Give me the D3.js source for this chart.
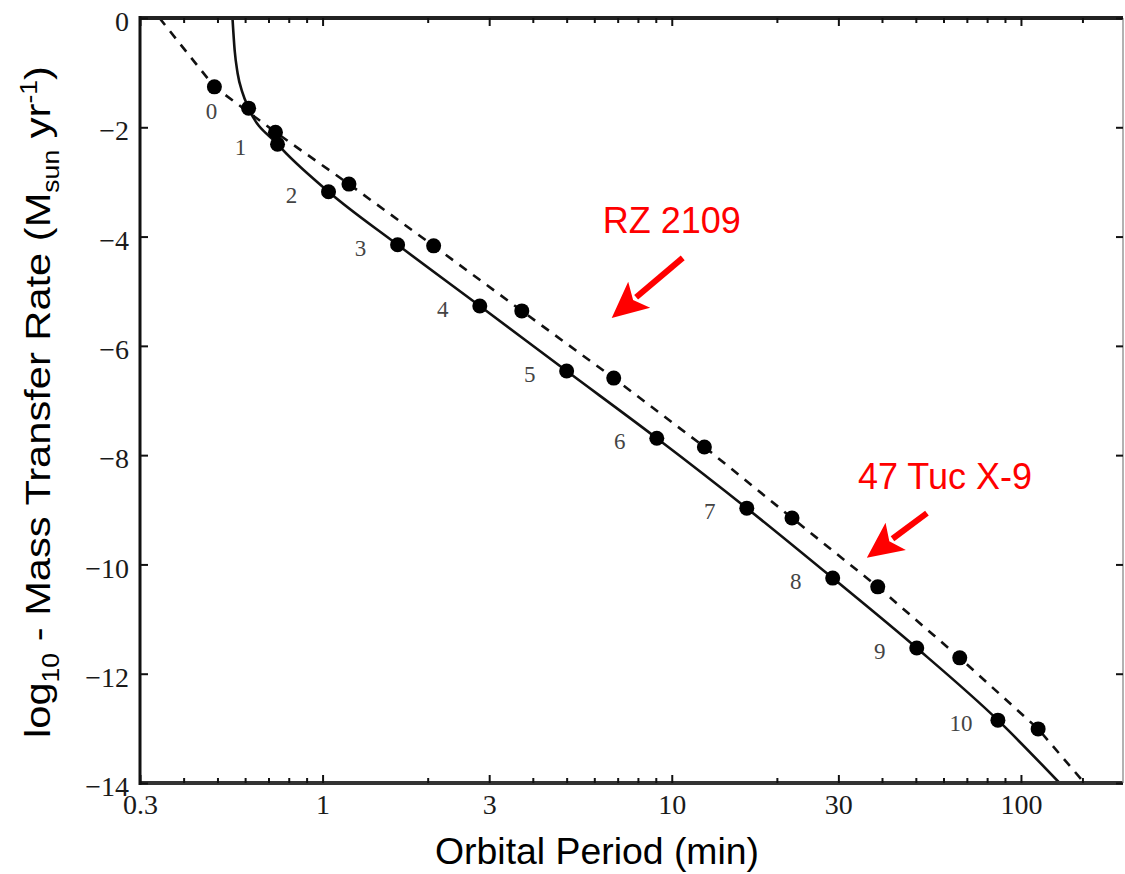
<!DOCTYPE html>
<html>
<head>
<meta charset="utf-8">
<script src="https://cdn.jsdelivr.net/npm/d3@7"></script>
<style>
  body { margin: 0; background: #fff; }
  svg { display: block; }
</style>
</head>
<body>
<svg width="1125" height="874"></svg>
<script>
// axis ticks
const periodTicks = [0.3, 1, 3, 10, 30, 100];
const periodMinor = [0.4, 0.5, 0.6, 0.7, 0.8, 0.9, 2, 4, 5, 6, 7, 8, 9, 20, 40, 50, 60, 70, 80, 90, 150];
const rateTicks = [0, -2, -4, -6, -8, -10, -12, -14];

// dots on the solid track (numbered) and on the dashed track
const dotLabels = ["0", "1", "2", "3", "4", "5", "6", "7", "8", "9", "10"];
const solidDotP = [0.614, 0.743, 1.04, 1.64, 2.82, 5.0, 9.06, 16.4, 28.9, 50.3, 85.9];
const solidDotRate = [-1.65, -2.31, -3.18, -4.15, -5.27, -6.46, -7.69, -8.97, -10.25, -11.53, -12.85];
const dashDotP = [0.49, 0.733, 1.19, 2.08, 3.72, 6.82, 12.4, 22.1, 38.9, 66.8, 112];
const dashDotRate = [-1.26, -2.09, -3.04, -4.17, -5.36, -6.59, -7.85, -9.15, -10.41, -11.71, -13.01];

// curves
const solidCurveP = [0.552, 0.56, 0.571, 0.59, 0.614, 0.743, 1.04, 1.64, 2.82, 5.0, 9.06, 16.4, 28.9, 50.3, 85.9, 129];
const solidCurveRate = [0, -0.59, -1.01, -1.37, -1.65, -2.31, -3.18, -4.15, -5.27, -6.46, -7.69, -8.97, -10.25, -11.53, -12.85, -14];
const dashCurveP = [0.341, 0.49, 0.733, 1.19, 2.08, 3.72, 6.82, 12.4, 22.1, 38.9, 66.8, 112, 152];
const dashCurveRate = [0, -1.26, -2.09, -3.04, -4.17, -5.36, -6.59, -7.85, -9.15, -10.41, -11.71, -13.01, -14];

// red annotations: [text P, text rate, arrow tail P, tail rate, tip P, tip rate]
const noteNames = ["RZ 2109", "47 Tuc X-9"];
const noteSpots = [[10.0, -3.93, 10.75, -4.39, 6.73, -5.49], [60.6, -8.62, 53.8, -9.06, 36.2, -9.88]];

const svg = d3.select("svg");
const plotLeft = 140, plotRight = 1123, plotTop = 18, plotBottom = 783;

const x = d3.scaleLog().domain([0.3, 196]).range([plotLeft, plotRight]);
const y = d3.scaleLinear().domain([0, -14]).range([plotTop, plotBottom]);

svg.append("clipPath").attr("id", "plotClip")
    .append("rect").attr("x", plotLeft).attr("y", plotTop)
    .attr("width", plotRight - plotLeft).attr("height", plotBottom - plotTop);

const plot = svg.append("g").attr("clip-path", "url(#plotClip)");

const line = d3.line().x(d => x(d[0])).y(d => y(d[1]));

// solid track
plot.append("path")
    .datum(d3.zip(solidCurveP, solidCurveRate))
    .attr("fill", "none")
    .attr("stroke", "#111")
    .attr("stroke-width", 2.6)
    .attr("d", line.curve(d3.curveMonotoneX));

// dashed track
plot.append("path")
    .datum(d3.zip(dashCurveP, dashCurveRate))
    .attr("fill", "none")
    .attr("stroke", "#111")
    .attr("stroke-width", 2.6)
    .attr("stroke-dasharray", "9,8")
    .attr("d", line.curve(d3.curveLinear));

// dots
plot.selectAll(".dashDot")
    .data(d3.zip(dashDotP, dashDotRate))
    .enter().append("circle")
    .attr("class", "dashDot")
    .attr("cx", d => x(d[0]))
    .attr("cy", d => y(d[1]))
    .attr("r", 7.5)
    .attr("fill", "#000");

plot.selectAll(".solidDot")
    .data(d3.zip(solidDotP, solidDotRate))
    .enter().append("circle")
    .attr("class", "solidDot")
    .attr("cx", d => x(d[0]))
    .attr("cy", d => y(d[1]))
    .attr("r", 7.5)
    .attr("fill", "#000");

// numbers next to the solid dots
svg.selectAll(".dotLabel")
    .data(dotLabels)
    .enter().append("text")
    .attr("class", "dotLabel")
    .attr("x", (d, i) => x(solidDotP[i]) - 37)
    .attr("y", (d, i) => y(solidDotRate[i]) + 3)
    .attr("dy", "0.35em")
    .attr("text-anchor", "middle")
    .style("font-family", "'Liberation Serif', 'DejaVu Serif', serif")
    .style("font-size", "23px")
    .style("fill", "#444")
    .text(d => d);

// frame
svg.append("line").attr("x1", plotLeft).attr("x2", plotRight).attr("y1", plotTop).attr("y2", plotTop)
    .style("stroke", "#222").style("stroke-width", 4);
svg.append("line").attr("x1", plotLeft).attr("x2", plotRight).attr("y1", plotBottom).attr("y2", plotBottom)
    .style("stroke", "#333").style("stroke-width", 4);
svg.append("line").attr("x1", plotLeft).attr("x2", plotLeft).attr("y1", plotTop - 2).attr("y2", plotBottom + 2)
    .style("stroke", "#111").style("stroke-width", 3);
svg.append("line").attr("x1", plotRight).attr("x2", plotRight).attr("y1", plotTop).attr("y2", plotBottom)
    .style("stroke", "#999").style("stroke-width", 1.5);

const tickFont = "'Liberation Serif', 'Times New Roman', serif";

function styleAxis(g) {
    g.select(".domain").remove();
    g.selectAll("line").style("stroke", "#111").style("stroke-width", 2);
    g.selectAll("text")
        .style("font-family", tickFont)
        .style("font-size", "28px")
        .style("fill", "#1a1a1a");
}

// bottom axis
svg.append("g").attr("transform", `translate(0,${plotBottom})`)
    .call(d3.axisBottom(x).tickValues(periodTicks).tickSize(-8).tickPadding(11).tickFormat(d => d))
    .call(styleAxis);
svg.append("g").attr("transform", `translate(0,${plotBottom})`)
    .call(d3.axisBottom(x).tickValues(periodMinor).tickSize(-5).tickFormat(""))
    .call(styleAxis);

// top axis
svg.append("g").attr("transform", `translate(0,${plotTop})`)
    .call(d3.axisTop(x).tickValues(periodTicks).tickSize(-8).tickFormat(""))
    .call(styleAxis);
svg.append("g").attr("transform", `translate(0,${plotTop})`)
    .call(d3.axisTop(x).tickValues(periodMinor).tickSize(-5).tickFormat(""))
    .call(styleAxis);

// left axis
svg.append("g").attr("transform", `translate(${plotLeft},0)`)
    .call(d3.axisLeft(y).tickValues(rateTicks).tickSize(-8).tickPadding(11).tickFormat(d3.format("d")))
    .call(styleAxis)
    .selectAll("text").attr("dy", "0.45em");

// right axis
svg.append("g").attr("transform", `translate(${plotRight},0)`)
    .call(d3.axisRight(y).tickValues(rateTicks).tickSize(-7).tickFormat(""))
    .call(styleAxis);

// axis titles
const titleFont = "'Liberation Sans', Arial, sans-serif";

const xTitle = svg.append("text")
    .attr("text-anchor", "middle")
    .style("font-family", titleFont)
    .style("font-size", "36px")
    .style("fill", "#000")
    .text("Orbital Period (min)");
let w = xTitle.node().getComputedTextLength();
xTitle.attr("transform", `translate(597,864) scale(${324 / w},1)`);

const yTitle = svg.append("text")
    .attr("text-anchor", "middle")
    .style("font-family", titleFont)
    .style("font-size", "36px")
    .style("fill", "#000");
yTitle.append("tspan").text("log");
yTitle.append("tspan").attr("dy", 9).style("font-size", "23px").text("10");
yTitle.append("tspan").attr("dy", -9).text(" - Mass Transfer Rate (M");
yTitle.append("tspan").attr("dy", 9).style("font-size", "23px").text("sun");
yTitle.append("tspan").attr("dy", -9).text(" yr");
yTitle.append("tspan").attr("dy", -13).style("font-size", "23px").text("-1");
yTitle.append("tspan").attr("dy", 13).text(")");
w = yTitle.node().getBBox().width;
yTitle.attr("transform", `translate(50,402) rotate(-90) scale(${672 / w},1)`);

// red notes with arrows
noteNames.forEach((name, i) => {
    const s = noteSpots[i];
    svg.append("text")
        .attr("x", x(s[0]))
        .attr("y", y(s[1]))
        .attr("text-anchor", "middle")
        .style("font-family", titleFont)
        .style("font-size", "36px")
        .style("fill", "#ff0000")
        .text(name);

    const x0 = x(s[2]), y0 = y(s[3]), x1 = x(s[4]), y1 = y(s[5]);
    const len = Math.hypot(x1 - x0, y1 - y0);
    const ux = (x1 - x0) / len, uy = (y1 - y0) / len;
    const headLen = 36, headHalf = 17;
    const bx = x1 - ux * headLen, by = y1 - uy * headLen;

    svg.append("line")
        .attr("x1", x0).attr("y1", y0)
        .attr("x2", bx + ux * 4).attr("y2", by + uy * 4)
        .style("stroke", "#ff0000")
        .style("stroke-width", 6);

    svg.append("polygon")
        .attr("points", [
            [x1, y1],
            [bx - uy * headHalf, by + ux * headHalf],
            [bx + ux * 8, by + uy * 8],
            [bx + uy * headHalf, by - ux * headHalf]
        ].map(p => p.join(",")).join(" "))
        .style("fill", "#ff0000");
});
</script>
</body>
</html>
